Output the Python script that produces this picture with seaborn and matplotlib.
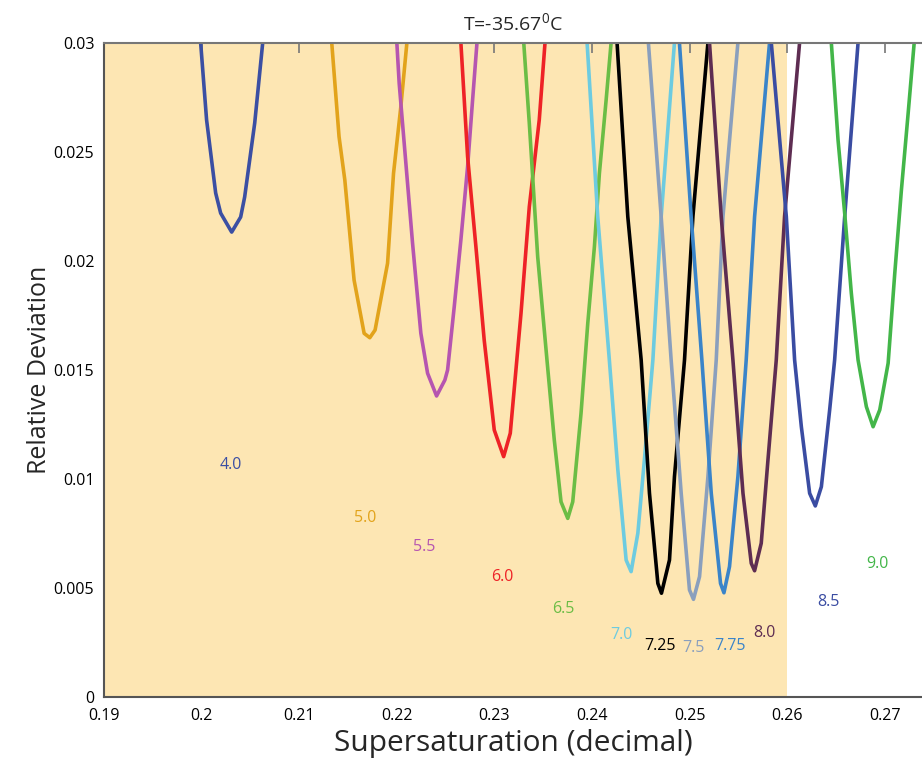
import pandas as pd
import matplotlib
matplotlib.use("Agg")
import matplotlib.pyplot as plt
import seaborn as sns

# curve data, one V per label
x_40 = [0.19990, 0.20051, 0.20144, 0.20195, 0.20308, 0.20400, 0.20441, 0.20544, 0.20626]
y_40 = [0.0300, 0.02646, 0.02311, 0.02219, 0.02132, 0.02201, 0.02293, 0.02632, 0.0300]

x_50 = [0.21333, 0.21408, 0.21467, 0.21562, 0.21665, 0.21723, 0.21777, 0.21905, 0.21966, 0.22041, 0.22103]
y_50 = [0.0300, 0.02569, 0.02371, 0.01912, 0.01668, 0.01648, 0.01683, 0.01989, 0.02401, 0.02707, 0.0300]

x_55 = [0.22000, 0.22024, 0.22161, 0.22246, 0.22315, 0.22407, 0.22492, 0.22520, 0.22588, 0.22656, 0.22725, 0.22776, 0.22821]
y_55 = [0.0300, 0.02814, 0.02081, 0.01668, 0.01485, 0.01381, 0.01454, 0.01500, 0.01790, 0.02096, 0.02432, 0.02737, 0.0300]

x_60 = [0.22656, 0.22725, 0.22810, 0.22895, 0.22998, 0.23094, 0.23162, 0.23272, 0.23357, 0.23459, 0.23518]
y_60 = [0.0300, 0.02478, 0.02065, 0.01637, 0.01225, 0.01103, 0.01210, 0.01760, 0.02248, 0.02646, 0.0300]

x_65 = [0.23300, 0.23357, 0.23443, 0.23538, 0.23613, 0.23682, 0.23751, 0.23802, 0.23887, 0.23956, 0.24024, 0.24075, 0.24144, 0.24195]
y_65 = [0.0300, 0.02631, 0.02019, 0.01546, 0.01179, 0.00896, 0.00820, 0.00896, 0.01302, 0.01714, 0.02065, 0.02401, 0.02737, 0.0300]

x_70 = [0.23949, 0.24058, 0.24177, 0.24264, 0.24349, 0.24400, 0.24469, 0.24536, 0.24623, 0.24708, 0.24844]
y_70 = [0.0300, 0.02203, 0.01546, 0.01042, 0.00629, 0.00576, 0.00752, 0.01088, 0.01546, 0.02203, 0.0300]

x_725 = [0.24256, 0.24366, 0.24503, 0.24588, 0.24674, 0.24711, 0.24793, 0.24844, 0.24947, 0.25033, 0.25187]
y_725 = [0.0300, 0.02203, 0.01546, 0.00935, 0.00522, 0.00477, 0.00629, 0.01011, 0.01546, 0.02203, 0.0300]

x_75 = [0.24577, 0.24708, 0.24810, 0.24913, 0.24998, 0.25039, 0.25101, 0.25187, 0.25272, 0.25341, 0.25494]
y_75 = [0.0300, 0.02203, 0.01546, 0.00935, 0.00492, 0.00449, 0.00553, 0.01011, 0.01546, 0.02203, 0.0300]

x_775 = [0.24895, 0.25015, 0.25125, 0.25221, 0.25316, 0.25351, 0.25408, 0.25494, 0.25579, 0.25665, 0.25818]
y_775 = [0.0300, 0.02203, 0.01546, 0.00935, 0.00522, 0.00479, 0.00599, 0.01011, 0.01546, 0.02203, 0.0300]

x_80 = [0.25203, 0.25323, 0.25443, 0.25546, 0.25631, 0.25665, 0.25733, 0.25802, 0.25887, 0.25972, 0.26126]
y_80 = [0.0300, 0.02203, 0.01546, 0.00935, 0.00614, 0.00580, 0.00706, 0.01088, 0.01546, 0.02203, 0.0300]

x_85 = [0.25836, 0.25990, 0.26075, 0.26144, 0.26229, 0.26287, 0.26349, 0.26434, 0.26485, 0.26588, 0.26725]
y_85 = [0.0300, 0.02203, 0.01546, 0.01240, 0.00935, 0.00877, 0.00965, 0.01317, 0.01546, 0.02203, 0.0300]

x_90 = [0.26451, 0.26520, 0.26588, 0.26656, 0.26725, 0.26810, 0.26879, 0.26947, 0.27033, 0.27101, 0.27169, 0.27238, 0.27300]
y_90 = [0.0300, 0.02554, 0.02218, 0.01852, 0.01546, 0.01332, 0.01240, 0.01317, 0.01531, 0.01943, 0.02325, 0.02676, 0.0300]

labels = ["4.0", "5.0", "5.5", "6.0", "6.5", "7.0", "7.25", "7.5", "7.75", "8.0", "8.5", "9.0"]
colors = ["#3b4fa3", "#e2a31b", "#b655b0", "#ee2226", "#6bbd45", "#6dcbe0",
          "#000000", "#8a9fbd", "#3a84c9", "#5e2d52", "#3a4ca2", "#43b649"]

# where each number is written
label_x = [0.20297, 0.21672, 0.22277, 0.23077, 0.23703, 0.24297, 0.24697, 0.25036, 0.25415, 0.25764, 0.26421, 0.26923]
label_y = [0.01065, 0.00822, 0.00689, 0.00551, 0.00404, 0.00285, 0.00234, 0.00226, 0.00234, 0.00295, 0.00437, 0.00611]

xticks = [0.19, 0.20, 0.21, 0.22, 0.23, 0.24, 0.25, 0.26, 0.27]
xtick_labels = ["0.19", "0.2", "0.21", "0.22", "0.23", "0.24", "0.25", "0.26", "0.27"]
yticks = [0, 0.005, 0.01, 0.015, 0.02, 0.025, 0.03]
ytick_labels = ["0", "0.005", "0.01", "0.015", "0.02", "0.025", "0.03"]

shade_start, shade_end = 0.19, 0.26

xs = [x_40, x_50, x_55, x_60, x_65, x_70, x_725, x_75, x_775, x_80, x_85, x_90]
ys = [y_40, y_50, y_55, y_60, y_65, y_70, y_725, y_75, y_775, y_80, y_85, y_90]
df = pd.concat(
    [pd.DataFrame({"x": x, "y": y, "label": lab}) for x, y, lab in zip(xs, ys, labels)],
    ignore_index=True,
)

sns.set_theme(style="white")
plt.rcParams["font.family"] = ["Open Sans", "DejaVu Sans"]

fig = plt.figure(figsize=(9.22, 7.59), dpi=100)
ax = fig.add_axes([104 / 922, 61.7 / 759, 818 / 922, 654.6 / 759])

ax.axvspan(shade_start, shade_end, color="#fde6b3", lw=0, zorder=0)

sns.lineplot(data=df, x="x", y="y", hue="label", palette=dict(zip(labels, colors)),
             hue_order=labels, sort=False, estimator=None, linewidth=2.6,
             legend=False, ax=ax)

for lab, lx, ly, c in zip(labels, label_x, label_y, colors):
    ax.text(lx, ly, lab, color=c, fontsize=11.5, ha="center", va="center")

ax.set_xlim(0.19, 0.2738)
ax.set_ylim(0, 0.03)
ax.set_xticks(xticks)
ax.set_xticklabels(xtick_labels)
ax.set_yticks(yticks)
ax.set_yticklabels(ytick_labels)
ax.tick_params(direction="in", length=7, width=1.2, colors="#777777", labelcolor="black",
               labelsize=11.5, top=True, right=False)
ax.tick_params(axis="x", pad=8)
ax.tick_params(axis="y", pad=7)

for side in ["left", "bottom", "top"]:
    ax.spines[side].set_color("#555555")
    ax.spines[side].set_linewidth(1.5)
ax.spines["top"].set_color("#777777")
ax.spines["right"].set_visible(False)

ax.set_xlabel("Supersaturation (decimal)", fontsize=21.5, labelpad=3)
ax.set_ylabel("Relative Deviation", fontsize=18, labelpad=1)
ax.set_title(r"T=-35.67$^\mathregular{0}$C", fontsize=14, pad=8)

fig.savefig("out.png", dpi=100)
